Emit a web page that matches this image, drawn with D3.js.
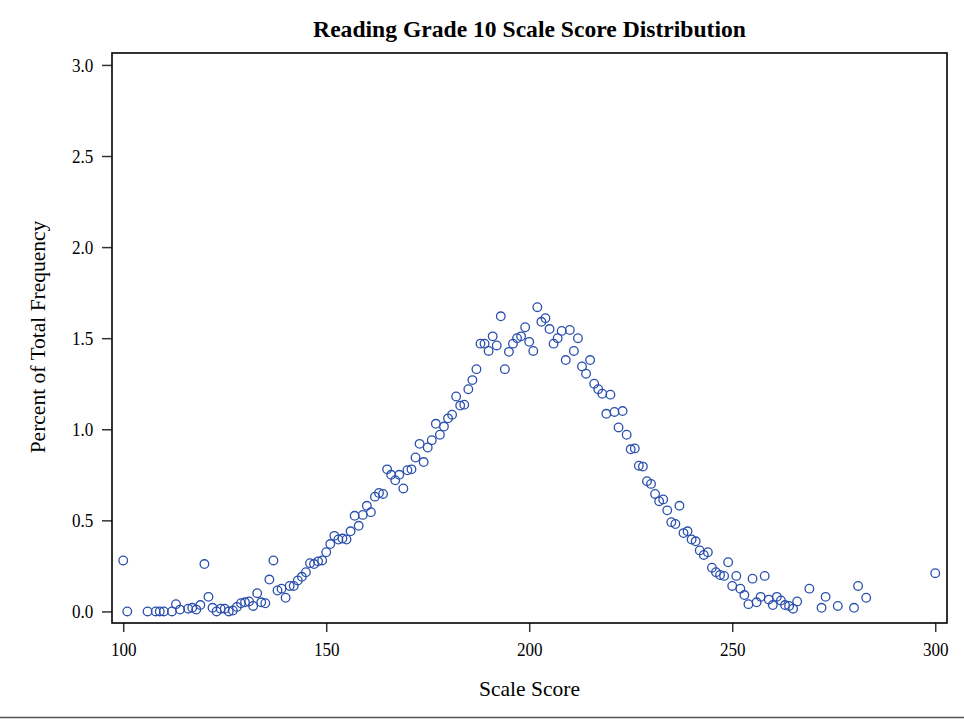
<!DOCTYPE html>
<html>
<head>
<meta charset="utf-8">
<script src="https://cdn.jsdelivr.net/npm/d3@7"></script>
<style>
  html, body { margin: 0; padding: 0; background: #fff; }
  svg { display: block; }
  text { font-family: "Liberation Serif", "Times New Roman", serif; fill: #000; }
</style>
</head>
<body>
<svg id="chart" width="964" height="720"></svg>
<script>
const title = "Reading Grade 10 Scale Score Distribution";
const xLabel = "Scale Score";
const yLabel = "Percent of Total Frequency";

const scores = [100,101,106,108,109,110,112,113,114,116,117,118,119,120,121,122,123,124,125,126,127,128,129,130,131,132,133,134,135,136,137,138,139,140,141,142,143,144,145,146,147,148,149,150,151,152,153,154,155,156,157,158,159,160,161,162,163,164,165,166,167,168,169,170,171,172,173,174,175,176,177,178,179,180,181,182,183,184,185,186,187,188,189,190,191,192,193,194,195,196,197,198,199,200,201,202,203,204,205,206,207,208,209,210,211,212,213,214,215,216,217,218,219,220,221,222,223,224,225,226,227,228,229,230,231,232,233,234,235,236,237,238,239,240,241,242,243,244,245,246,247,248,249,250,251,252,253,254,255,256,257,258,259,260,261,262,263,264,265,266,269,272,273,276,280,281,283,300];
const percents = [0.28,0.0,0.0,0.0,0.0,0.0,0.0,0.04,0.01,0.015,0.02,0.01,0.035,0.26,0.08,0.02,0.0,0.015,0.015,0.0,0.005,0.025,0.045,0.05,0.055,0.03,0.1,0.05,0.045,0.175,0.28,0.115,0.125,0.075,0.14,0.14,0.17,0.19,0.215,0.265,0.26,0.275,0.28,0.325,0.37,0.415,0.395,0.40,0.395,0.44,0.525,0.47,0.53,0.58,0.545,0.63,0.65,0.645,0.78,0.75,0.72,0.75,0.675,0.775,0.78,0.845,0.92,0.82,0.90,0.94,1.03,0.97,1.015,1.06,1.08,1.18,1.13,1.135,1.22,1.27,1.33,1.47,1.47,1.43,1.51,1.46,1.62,1.33,1.425,1.47,1.5,1.51,1.56,1.48,1.43,1.67,1.59,1.61,1.55,1.47,1.5,1.54,1.38,1.545,1.43,1.5,1.345,1.305,1.38,1.25,1.22,1.195,1.085,1.19,1.095,1.01,1.10,0.97,0.89,0.895,0.80,0.795,0.715,0.70,0.645,0.605,0.615,0.555,0.49,0.48,0.58,0.43,0.44,0.395,0.385,0.335,0.31,0.325,0.24,0.215,0.2,0.195,0.27,0.14,0.195,0.125,0.09,0.04,0.18,0.05,0.08,0.195,0.065,0.035,0.08,0.06,0.035,0.03,0.015,0.055,0.125,0.02,0.08,0.03,0.02,0.14,0.075,0.21];
const xTicks = [100,150,200,250,300];
const yTicks = [0.0,0.5,1.0,1.5,2.0,2.5,3.0];

const data = scores.map((s,i) => ({x: s, y: percents[i]}));

const svg = d3.select("#chart");
const L = 112, R = 947, T = 53, B = 623;

const x = d3.scaleLinear().domain([97.24, 302.9]).range([L, R]);
const y = d3.scaleLinear().domain([-0.0635, 3.0655]).range([B, T]);

// Title
svg.append("text")
  .attr("x", (L+R)/2).attr("y", 37)
  .attr("text-anchor", "middle")
  .attr("font-weight", "bold")
  .attr("font-size", 23.6)
  .text(title);

// Axes
const xAxis = d3.axisBottom(x).tickValues(xTicks).tickFormat(d3.format("d")).tickSize(9).tickSizeOuter(0);
const yAxis = d3.axisLeft(y).tickValues(yTicks).tickFormat(d3.format(".1f")).tickSize(10).tickSizeOuter(0);

const gx = svg.append("g").attr("transform", `translate(0,${B})`).call(xAxis);
gx.select(".domain").remove();
gx.selectAll("text")
  .attr("font-size", 19).attr("y", 33.5).attr("dy", null)
  .attr("transform", "scale(0.9,1)")
  .style("font-family", "Liberation Serif");
gx.selectAll("line").attr("stroke", "#333").attr("stroke-width", 1.5);

const gy = svg.append("g").attr("transform", `translate(${L},0)`).call(yAxis);
gy.select(".domain").remove();
gy.selectAll("text")
  .attr("font-size", 19).attr("x", -18.7 / 0.9).attr("dy", "0.33em")
  .attr("transform", "scale(0.9,1)")
  .style("font-family", "Liberation Serif");
gy.selectAll("line").attr("stroke", "#333").attr("stroke-width", 1.5);

// Frame
svg.append("rect")
  .attr("x", L).attr("y", T).attr("width", R-L).attr("height", B-T)
  .attr("fill", "none").attr("stroke", "#000").attr("stroke-width", 1.6);

// Points
svg.append("g").selectAll("circle").data(data).join("circle")
  .attr("cx", d => x(d.x)).attr("cy", d => y(d.y)).attr("r", 4.3)
  .attr("fill", "none").attr("stroke", "#2a4fac").attr("stroke-width", 1.3);

// Axis labels
svg.append("text")
  .attr("x", (L+R)/2).attr("y", 696)
  .attr("text-anchor", "middle").attr("font-size", 21.5)
  .text(xLabel);

svg.append("text")
  .attr("transform", `translate(45,337) rotate(-90)`)
  .attr("text-anchor", "middle").attr("font-size", 21.5)
  .text(yLabel);

// Bottom rule
svg.append("line")
  .attr("x1", 0).attr("x2", 964).attr("y1", 717.5).attr("y2", 717.5)
  .attr("stroke", "#555").attr("stroke-width", 1.5);
</script>
</body>
</html>
